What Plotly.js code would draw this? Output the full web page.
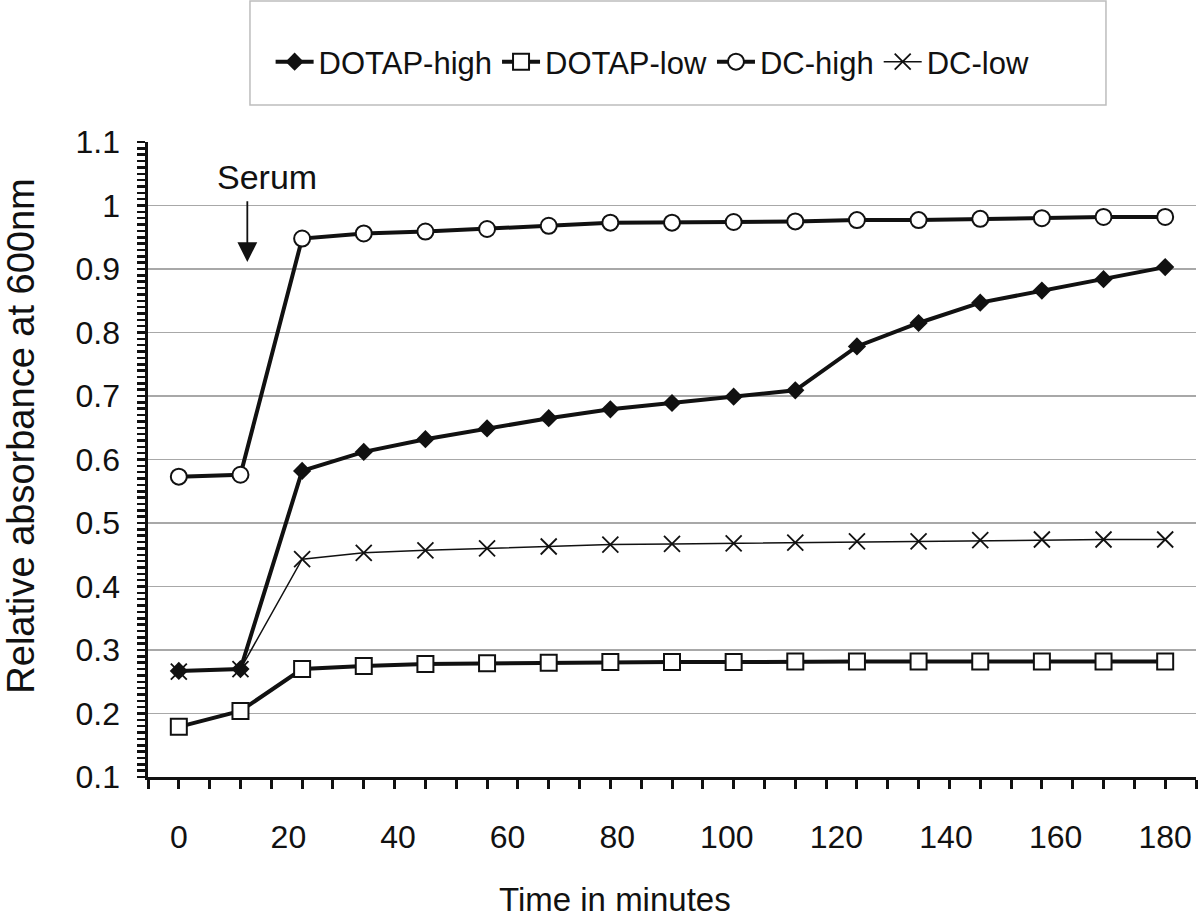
<!DOCTYPE html>
<html>
<head>
<meta charset="utf-8">
<script src="https://cdn.plot.ly/plotly-3.0.1.min.js"></script>
<style>html,body{margin:0;padding:0;background:#fff;}#chart{width:1200px;height:922px;}</style>
</head>
<body>
<div id="chart"></div>
<script>
// Sample positions along the time axis (minutes)
const times = [0, 11.25, 22.5, 33.75, 45, 56.25, 67.5, 78.75, 90, 101.25, 112.5, 123.75, 135, 146.25, 157.5, 168.75, 180];

const dotapHigh = [0.267, 0.270, 0.582, 0.612, 0.632, 0.649, 0.665, 0.679, 0.689, 0.699, 0.709, 0.778, 0.815, 0.847, 0.866, 0.884, 0.903];
const dotapLow  = [0.179, 0.204, 0.270, 0.275, 0.278, 0.279, 0.280, 0.281, 0.281, 0.281, 0.282, 0.282, 0.282, 0.282, 0.282, 0.282, 0.282];
const dcHigh    = [0.573, 0.576, 0.948, 0.956, 0.959, 0.963, 0.968, 0.973, 0.973, 0.974, 0.975, 0.977, 0.977, 0.979, 0.980, 0.982, 0.982];
const dcLow     = [0.266, 0.270, 0.443, 0.453, 0.457, 0.460, 0.463, 0.466, 0.467, 0.468, 0.469, 0.471, 0.471, 0.473, 0.474, 0.474, 0.474];

const xTickVals = [0, 20, 40, 60, 80, 100, 120, 140, 160, 180];
const xTickText = ['0', '20', '40', '60', '80', '100', '120', '140', '160', '180'];

const seriesNames = ['DOTAP-high', 'DOTAP-low', 'DC-high', 'DC-low'];
const xTitle = 'Time in minutes';
const yTitle = 'Relative absorbance at 600nm';
const serumLabel = 'Serum';

const FONT = '"Liberation Sans", Arial, sans-serif';

const traces = [
  {
    x: times, y: dotapHigh, name: seriesNames[0], type: 'scatter', mode: 'lines+markers',
    line: {color: '#111', width: 4},
    marker: {symbol: 'diamond', size: 14, color: '#111', line: {width: 0}}
  },
  {
    x: times, y: dotapLow, name: seriesNames[1], type: 'scatter', mode: 'lines+markers',
    line: {color: '#111', width: 4},
    marker: {symbol: 'square', size: 16, color: '#fff', line: {color: '#111', width: 2}}
  },
  {
    x: times, y: dcHigh, name: seriesNames[2], type: 'scatter', mode: 'lines+markers',
    line: {color: '#111', width: 4},
    marker: {symbol: 'circle', size: 16, color: '#fff', line: {color: '#111', width: 2}}
  },
  {
    x: times, y: dcLow, name: seriesNames[3], type: 'scatter', mode: 'lines+markers',
    line: {color: '#111', width: 1.5},
    marker: {symbol: 'x-thin', size: 16, color: '#111', line: {color: '#111', width: 1.8}}
  },
  // empty helpers so the overlay axes (labels / gridlines) are drawn
  {x: [null], y: [null], xaxis: 'x2', yaxis: 'y', type: 'scatter', mode: 'markers', showlegend: false, hoverinfo: 'skip'},
  {x: [null], y: [null], xaxis: 'x', yaxis: 'y2', type: 'scatter', mode: 'markers', showlegend: false, hoverinfo: 'skip'}
];

const xRange = [-5.625, 185.625];
const yRange = [0.1, 1.1];

const layout = {
  width: 1200, height: 922,
  margin: {l: 148, r: 4, t: 142, b: 145},
  paper_bgcolor: '#fff', plot_bgcolor: '#fff',
  showlegend: true,
  font: {family: FONT, color: '#111', size: 31},
  // fine tick axes (marks only)
  xaxis: {
    range: xRange, tickmode: 'linear', tick0: 0, dtick: 5.625,
    ticks: 'outside', ticklen: 9, tickwidth: 3, tickcolor: '#111',
    showticklabels: false, showgrid: false, zeroline: false,
    showline: true, linecolor: '#111', linewidth: 3
  },
  yaxis: {
    range: yRange, tickmode: 'linear', tick0: 0.1, dtick: 0.01,
    ticks: 'outside', ticklen: 8, tickwidth: 2.5, tickcolor: '#111',
    showticklabels: false, showgrid: false, zeroline: false,
    showline: true, linecolor: '#111', linewidth: 3
  },
  // label axes
  xaxis2: {
    overlaying: 'x', anchor: 'y', side: 'bottom', range: xRange,
    tickmode: 'array', tickvals: xTickVals, ticktext: xTickText,
    ticks: '', showgrid: false, zeroline: false, showline: false,
    tickfont: {family: FONT, size: 32, color: '#111'},
    ticklabelstandoff: 38
  },
  yaxis2: {
    overlaying: 'y', anchor: 'x', side: 'left', range: yRange,
    tickmode: 'linear', tick0: 0.1, dtick: 0.1,
    ticks: '', showgrid: true, gridcolor: '#a8a8a8', gridwidth: 1.5,
    zeroline: false, showline: false,
    tickfont: {family: FONT, size: 32, color: '#111'},
    ticklabelstandoff: 27
  },
  legend: {
    orientation: 'h', x: 0.117, xanchor: 'left', y: 1.126, yanchor: 'middle',
    bgcolor: 'rgba(0,0,0,0)', borderwidth: 0,
    font: {family: FONT, size: 31, color: '#111'},
    itemwidth: 38, traceorder: 'normal'
  },
  shapes: [
    {type: 'rect', xref: 'paper', yref: 'paper', x0: 0.0973, x1: 0.9141, y0: 1.0583, y1: 1.222,
     line: {color: '#bdbdbd', width: 1.5}, fillcolor: 'rgba(0,0,0,0)', layer: 'below'}
  ],
  annotations: [
    {xref: 'paper', yref: 'paper', x: 0.4456, y: -0.1937, text: xTitle, showarrow: false,
     font: {family: FONT, size: 33, color: '#111'}, xanchor: 'center', yanchor: 'middle'},
    {xref: 'paper', yref: 'paper', x: -0.1215, y: 0.537, text: yTitle, showarrow: false, textangle: -90,
     font: {family: FONT, size: 38, color: '#111'}, xanchor: 'center', yanchor: 'middle'},
    {xref: 'x', yref: 'y', x: 16, y: 1.045, text: serumLabel, showarrow: false,
     font: {family: FONT, size: 34, color: '#111'}, xanchor: 'center', yanchor: 'middle'},
    {xref: 'x', yref: 'y', x: 12.5, y: 0.911, axref: 'x', ayref: 'y', ax: 12.5, ay: 1.009,
     text: '', showarrow: true, arrowhead: 2, arrowsize: 2.2, arrowwidth: 1.8, arrowcolor: '#111'}
  ]
};

Plotly.newPlot('chart', traces, layout, {staticPlot: true, displayModeBar: false});
</script>
</body>
</html>
